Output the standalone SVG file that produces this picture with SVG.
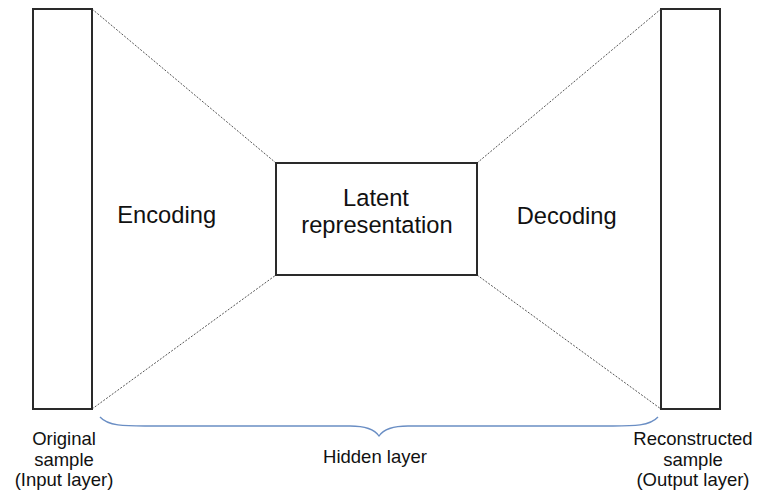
<svg xmlns="http://www.w3.org/2000/svg" width="757" height="493" viewBox="0 0 757 493">
<style>
.box{fill:#fff;stroke:#2a2a2a;stroke-width:2}
.dot{stroke:#555;stroke-width:1;stroke-dasharray:2 1.5;fill:none}
.brace{fill:none;stroke:#6a8ec4;stroke-width:1.3}
text{font-family:"Liberation Sans",Arial,sans-serif;fill:#111;text-anchor:middle}
.big{font-size:23.7px}
.small{font-size:18.5px}
</style>
<rect width="757" height="493" fill="#fff"/>
<g id="connectors">
<line class="dot" x1="92" y1="9" x2="276" y2="163"/>
<line class="dot" x1="92" y1="409" x2="276" y2="275"/>
<line class="dot" x1="477" y1="163" x2="661" y2="9"/>
<line class="dot" x1="477" y1="275" x2="661" y2="409"/>
<path class="brace" d="M100,417 C108,426 125,426 145,426 L350,426 C365,426 375,430 379,436 C383,430 393,426 408,426 L613,426 C633,426 650,426 658,417"/>
</g>
<g id="input">
<rect class="box" x="33" y="9" width="59" height="400"/>
<text class="small" x="64" y="445">Original</text>
<text class="small" x="64" y="466">sample</text>
<text class="small" x="64" y="486">(Input layer)</text>
</g>
<g id="latent">
<rect class="box" x="276" y="163" width="201" height="112"/>
<text class="big" x="376" y="206">Latent</text>
<text class="big" x="377" y="233">representation</text>
</g>
<g id="output">
<rect class="box" x="661" y="9" width="59" height="400"/>
<text class="small" x="693" y="445">Reconstructed</text>
<text class="small" x="693" y="466">sample</text>
<text class="small" x="693" y="486">(Output layer)</text>
</g>
<g id="encoding"><text class="big" x="166.7" y="223.3">Encoding</text></g>
<g id="decoding"><text class="big" x="566.7" y="224">Decoding</text></g>
<g id="hidden"><text class="small" x="375" y="463.3">Hidden layer</text></g>
</svg>
